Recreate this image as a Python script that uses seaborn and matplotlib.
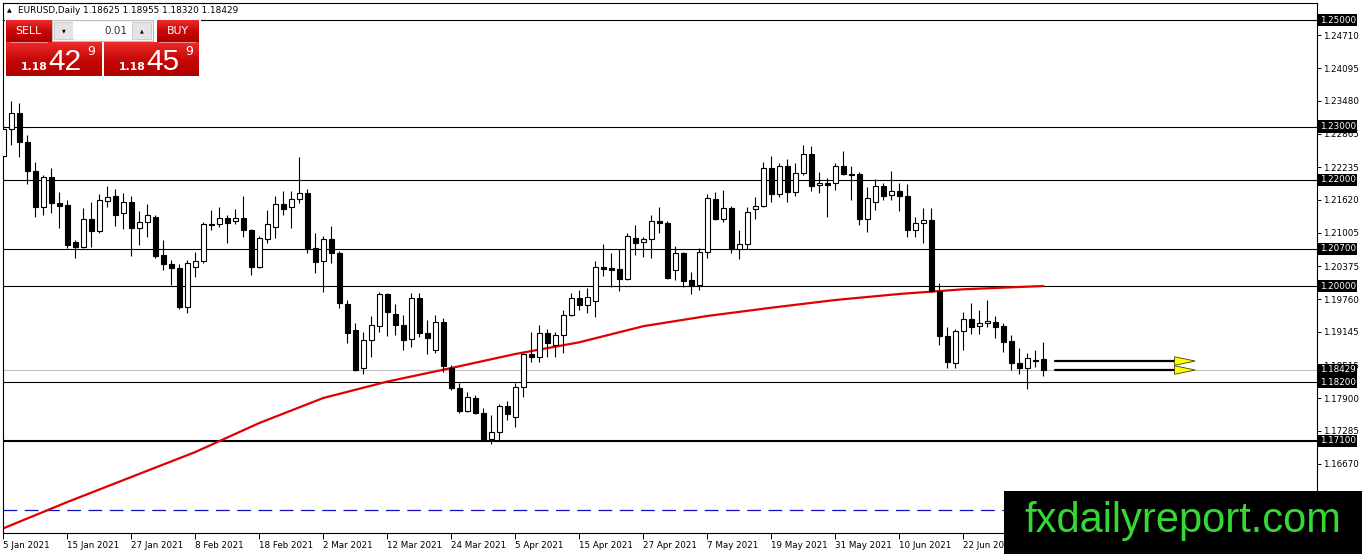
import numpy as np
import pandas as pd
import matplotlib
matplotlib.use("Agg")
import matplotlib.pyplot as plt
import matplotlib.transforms as mtransforms
from matplotlib.patches import Rectangle, Polygon
from matplotlib.colors import LinearSegmentedColormap
import seaborn as sns

# ---------------- data ----------------
dates = pd.bdate_range("2021-01-05", "2021-07-06")  # daily bars

opens = [1.22452, 1.22948, 1.23248, 1.22704, 1.22165, 1.21494, 1.22046, 1.21558, 1.21526, 1.20826,
         1.20743, 1.21263, 1.21043, 1.21607, 1.21695, 1.21370, 1.21577, 1.21089, 1.21201, 1.21295,
         1.20587, 1.20412, 1.20337, 1.19616, 1.20356, 1.20469, 1.21169, 1.21164, 1.21276, 1.21226,
         1.21276, 1.21057, 1.20356, 1.20882, 1.21119, 1.21545, 1.21483, 1.21633, 1.21746, 1.20713,
         1.20474, 1.20882, 1.20619, 1.19667, 1.19179, 1.18459, 1.18991, 1.19259, 1.19855, 1.19473,
         1.19272, 1.19004, 1.19774, 1.19117, 1.18803, 1.19323, 1.18459, 1.18095, 1.17663, 1.17896,
         1.17614, 1.17132, 1.17269, 1.17751, 1.17550, 1.18102, 1.18728, 1.18666, 1.19117, 1.18897,
         1.19079, 1.19455, 1.19774, 1.19648, 1.19718, 1.20356, 1.20337, 1.20324, 1.20131, 1.20901,
         1.20826, 1.20882, 1.21231, 1.21194, 1.20305, 1.20619, 1.20118, 1.20024, 1.20638, 1.21639,
         1.21258, 1.21464, 1.20700, 1.20788, 1.21445, 1.21502, 1.22215, 1.21727, 1.22259, 1.21776,
         1.22121, 1.22484, 1.21902, 1.21945, 1.21934, 1.22259, 1.22108, 1.22108, 1.21258, 1.21588,
         1.21883, 1.21708, 1.21789, 1.21695, 1.21057, 1.21182, 1.21244, 1.19917, 1.19066, 1.18553,
         1.19160, 1.19380, 1.19254, 1.19304, 1.19323, 1.19254, 1.18972, 1.18565, 1.18471, 1.18615,
         1.18625]
highs = [1.23028, 1.23479, 1.23447, 1.22841, 1.22339, 1.22089, 1.22215, 1.21765, 1.21620, 1.20869,
         1.21464, 1.21577, 1.21733, 1.21883, 1.21827, 1.21746, 1.21695, 1.21413, 1.21539, 1.21338,
         1.20869, 1.20493, 1.20412, 1.20493, 1.20643, 1.21213, 1.21432, 1.21483, 1.21338, 1.21445,
         1.21695, 1.21075, 1.20944, 1.21432, 1.21695, 1.21795, 1.21789, 1.22433, 1.21821, 1.20995,
         1.20944, 1.21132, 1.20668, 1.19742, 1.19316, 1.19147, 1.19442, 1.19898, 1.19879, 1.19661,
         1.19460, 1.19868, 1.19879, 1.19366, 1.19460, 1.19398, 1.18521, 1.18178, 1.18020, 1.17958,
         1.17719, 1.17582, 1.17789, 1.17851, 1.18178, 1.18752, 1.19135, 1.19272, 1.19192, 1.19147,
         1.19554, 1.19879, 1.19930, 1.19962, 1.20480, 1.20794, 1.20619, 1.20694, 1.21006, 1.21150,
         1.20931, 1.21338, 1.21494, 1.21231, 1.20756, 1.20649, 1.20273, 1.20713, 1.21733, 1.21776,
         1.21808, 1.21507, 1.21057, 1.21483, 1.21682, 1.22328, 1.22446, 1.22309, 1.22390, 1.22309,
         1.22653, 1.22634, 1.22140, 1.22039, 1.22320, 1.22540, 1.22259, 1.22151, 1.21870, 1.22009,
         1.21945, 1.22165, 1.21934, 1.21920, 1.21295, 1.21464, 1.21464, 1.20056, 1.19229, 1.19197,
         1.19522, 1.19691, 1.19554, 1.19742, 1.19442, 1.19304, 1.19085, 1.18835, 1.18741, 1.18803,
         1.18955]
lows = [1.22409, 1.22653, 1.22433, 1.21915, 1.21306, 1.21338, 1.21381, 1.21100, 1.20724, 1.20525,
        1.20719, 1.20743, 1.21006, 1.21494, 1.21132, 1.21070, 1.20574, 1.20775, 1.20931, 1.20536,
        1.20305, 1.20024, 1.19567, 1.19503, 1.20180, 1.20437, 1.21057, 1.21119, 1.20807, 1.21169,
        1.20931, 1.20211, 1.20337, 1.20807, 1.20901, 1.21338, 1.21089, 1.21558, 1.20619, 1.20255,
        1.19898, 1.20431, 1.19601, 1.18929, 1.18414, 1.18347, 1.18677, 1.19147, 1.19072, 1.19085,
        1.18803, 1.18854, 1.19041, 1.18722, 1.18741, 1.18395, 1.18052, 1.17614, 1.17633, 1.17601,
        1.17113, 1.17038, 1.17113, 1.17488, 1.17363, 1.17926, 1.18583, 1.18583, 1.18666, 1.18666,
        1.18752, 1.19442, 1.19554, 1.19492, 1.19417, 1.20193, 1.19980, 1.19917, 1.20118, 1.20587,
        1.20555, 1.20536, 1.21006, 1.20131, 1.20118, 1.19980, 1.19855, 1.19930, 1.20525, 1.21244,
        1.21213, 1.20630, 1.20506, 1.20700, 1.21258, 1.21483, 1.21588, 1.21671, 1.21588, 1.21701,
        1.22089, 1.21795, 1.21746, 1.21295, 1.21808, 1.22089, 1.21620, 1.21150, 1.21025, 1.21432,
        1.21620, 1.21620, 1.21419, 1.20920, 1.20931, 1.20818, 1.19898, 1.18897, 1.18459, 1.18459,
        1.18803, 1.19103, 1.19103, 1.19241, 1.19023, 1.18771, 1.18427, 1.18352, 1.18065, 1.18489,
        1.18320]
closes = [1.22948, 1.23248, 1.22704, 1.22165, 1.21494, 1.22046, 1.21558, 1.21513, 1.20775, 1.20743,
          1.21263, 1.21043, 1.21620, 1.21671, 1.21338, 1.21577, 1.21089, 1.21201, 1.21338, 1.20574,
          1.20412, 1.20337, 1.19616, 1.20431, 1.20469, 1.21169, 1.21156, 1.21276, 1.21182, 1.21276,
          1.21057, 1.20367, 1.20901, 1.21164, 1.21545, 1.21451, 1.21633, 1.21746, 1.20724, 1.20461,
          1.20882, 1.20619, 1.19680, 1.19128, 1.18427, 1.18991, 1.19272, 1.19855, 1.19511, 1.19272,
          1.18991, 1.19774, 1.19117, 1.19023, 1.19323, 1.18503, 1.18095, 1.17663, 1.17915, 1.17625,
          1.17132, 1.17269, 1.17751, 1.17601, 1.18102, 1.18722, 1.18666, 1.19117, 1.18940, 1.19079,
          1.19455, 1.19774, 1.19648, 1.19804, 1.20356, 1.20330, 1.20311, 1.20131, 1.20944, 1.20818,
          1.20882, 1.21231, 1.21182, 1.20161, 1.20619, 1.20104, 1.20005, 1.20638, 1.21652, 1.21258,
          1.21464, 1.20700, 1.20788, 1.21389, 1.21502, 1.22215, 1.21727, 1.22259, 1.21776, 1.22121,
          1.22484, 1.21889, 1.21945, 1.21902, 1.22259, 1.22103, 1.22084, 1.21258, 1.21652, 1.21883,
          1.21701, 1.21783, 1.21689, 1.21057, 1.21182, 1.21239, 1.19917, 1.19066, 1.18583, 1.19160,
          1.19380, 1.19229, 1.19304, 1.19348, 1.19241, 1.18959, 1.18565, 1.18471, 1.18647, 1.18591,
          1.18429]

# 200-period moving average, read at every 8th bar
ma_idx = [0, 8, 16, 24, 32, 40, 48, 56, 64, 72, 80, 88, 96, 104, 112, 120, 130]
ma_vals = [1.15454, 1.15948, 1.16418, 1.16887, 1.17432, 1.17902, 1.18210, 1.18465, 1.18728,
           1.18948, 1.19250, 1.19442, 1.19597, 1.19742, 1.19855, 1.19943, 1.20005]

levels = [1.25000, 1.23000, 1.22000, 1.20700, 1.20000, 1.18200, 1.17100]
current_price = 1.18429
blue_level = 1.15800
arrow_levels = [1.18596, 1.18427]
arrow_start, arrow_end = 131.5, 146.7

right_ticks = [1.24710, 1.24095, 1.23480, 1.22865, 1.22235, 1.21620, 1.21005, 1.20375,
               1.19760, 1.19145, 1.18515, 1.17900, 1.17285, 1.16670, 1.16055]
date_tick_idx = list(range(0, 121, 8))

# ---------------- figure ----------------
sns.set_style("white")
plt.rcParams["font.family"] = ["DejaVu Sans"]

W, H = 1362, 554
fig = plt.figure(figsize=(W / 100, H / 100), dpi=100)
fig.patch.set_facecolor("white")

L, R, T, B = 2.7, 1316.7, 2.7, 533.3
ax = fig.add_axes([L / W, (H - B) / H, (R - L) / W, (B - T) / H])
ax.set_facecolor("white")

x = np.arange(len(opens))
o = np.array(opens); h = np.array(highs); l = np.array(lows); c = np.array(closes)
bull = c >= o

# horizontal levels
for lv in levels:
    ax.axhline(lv, color="black", lw=1.5 if lv == 1.171 else 0.8, zorder=1)
ax.axhline(current_price, color="#c0c0c0", lw=0.8, zorder=1)
ax.axhline(blue_level, color="#1010c0", lw=0.9, linestyle=(0, (11, 6)), zorder=1)

# moving average
sns.lineplot(x=ma_idx, y=ma_vals, ax=ax, color="#e00000", linewidth=1.6, zorder=2)

# candles
ax.vlines(x, l, h, color="black", lw=0.8, zorder=3)
body_bottom = np.minimum(o, c)
body_h = np.maximum(np.abs(c - o), 0.00003)
ax.bar(x[bull], body_h[bull], bottom=body_bottom[bull], width=0.62,
       color="white", edgecolor="black", linewidth=0.8, zorder=4)
ax.bar(x[~bull], body_h[~bull], bottom=body_bottom[~bull], width=0.62,
       color="black", edgecolor="black", linewidth=0.8, zorder=4)

# arrows
for lv in arrow_levels:
    ax.plot([arrow_start, arrow_end], [lv, lv], color="black", lw=1.6, zorder=5)
    tri = Polygon([[arrow_end - 0.3, lv + 0.0008], [arrow_end + 2.3, lv], [arrow_end - 0.3, lv - 0.0008]],
                  closed=True, facecolor="#ffff00", edgecolor="#404000", lw=0.6, zorder=6)
    ax.add_patch(tri)

ax.set_xlim(-0.075, 164.18)
ax.set_ylim(1.15361, 1.25325)

# axes styling
for s in ax.spines.values():
    s.set_visible(True)
    s.set_color("black")
    s.set_linewidth(0.8)
ax.yaxis.tick_right()
ax.set_yticks(right_ticks)
ax.set_yticklabels([f"{v:.5f}" for v in right_ticks])
ax.tick_params(axis="y", which="both", right=True, left=False, length=3, width=0.7,
               pad=1.5, labelsize=6.3, colors="black")
ax.set_xticks(date_tick_idx)
ax.set_xticklabels([f"{dates[i].day} {dates[i].strftime('%b %Y')}" for i in date_tick_idx])
for lbl in ax.get_xticklabels():
    lbl.set_horizontalalignment("left")
ax.tick_params(axis="x", which="both", bottom=True, length=4, width=0.7, pad=1.2,
               labelsize=6.3, colors="black")
ax.set_xlabel("")
ax.set_ylabel("")
ax.grid(False)

# highlighted level labels on the price scale
blend = mtransforms.blended_transform_factory(ax.transAxes, ax.transData)
for lv in levels + [current_price]:
    ax.text(1.0022, lv, f"{lv:.5f}", transform=blend, ha="left", va="center",
            color="white", fontsize=6.3, clip_on=False, zorder=10,
            bbox=dict(boxstyle="square,pad=0.18", fc="black", ec="none"))

# ---------------- overlay (terminal decorations) ----------------
ov = fig.add_axes([0, 0, 1, 1], zorder=20)
ov.set_xlim(0, W)
ov.set_ylim(H, 0)
ov.axis("off")
ov.patch.set_alpha(0)

# header
ov.text(7, 10.5, "\u25B2", fontsize=4.5, ha="left", va="center", color="black")
ov.text(18, 10.5, f"EURUSD,Daily {opens[-1]:.5f} {highs[-1]:.5f} {lows[-1]:.5f} {closes[-1]:.5f}",
        fontsize=6.4, ha="left", va="center", color="black")

red_cmap = LinearSegmentedColormap.from_list("r", ["#ee2a2a", "#c80808", "#b00000"])
grad = np.linspace(0, 1, 64).reshape(-1, 1)

def red_box(x0, y0, x1, y1):
    ov.imshow(grad, cmap=red_cmap, extent=(x0, x1, y1, y0), aspect="auto", zorder=1)

ov.add_patch(Rectangle((4.5, 18), 196, 60, facecolor="white", edgecolor="none", zorder=0.5))
red_box(6, 20.5, 52, 42)
red_box(6, 42, 102, 76)
red_box(157, 20.5, 199, 42)
red_box(104, 42, 199, 76)
ov.plot([10, 47], [41.8, 41.8], color="#f0a0a0", lw=0.6, zorder=2)
ov.plot([159, 195], [41.8, 41.8], color="#f0a0a0", lw=0.6, zorder=2)
ov.text(28, 31, "SELL", color="white", fontsize=7.8, ha="center", va="center", zorder=3)
ov.text(178, 31, "BUY", color="white", fontsize=7.8, ha="center", va="center", zorder=3)

# lot spinner
ov.add_patch(Rectangle((52, 20), 101, 21, facecolor="#f4f4f4", edgecolor="#b0b0b0", lw=0.6, zorder=1))
ov.add_patch(Rectangle((54, 22), 19, 17, facecolor="#e4e4e4", edgecolor="#c0c0c0", lw=0.5, zorder=2))
ov.add_patch(Rectangle((73, 22), 59, 17, facecolor="white", edgecolor="none", zorder=2))
ov.add_patch(Rectangle((132, 22), 19, 17, facecolor="#e4e4e4", edgecolor="#c0c0c0", lw=0.5, zorder=2))
ov.text(63.5, 30.5, "\u25BC", fontsize=3.5, ha="center", va="center", color="black", zorder=3)
ov.text(141.5, 30.5, "\u25B2", fontsize=3.5, ha="center", va="center", color="black", zorder=3)
ov.text(127, 31, "0.01", fontsize=7.5, ha="right", va="center", color="#303030", zorder=3)

# prices
for x0, big in [(21, "42"), (119, "45")]:
    ov.text(x0, 70, "1.18", fontsize=7.8, fontweight="bold", color="white",
            ha="left", va="baseline", zorder=3)
    ov.text(x0 + 27.5, 70.5, big, fontsize=21.5, color="white", family="Liberation Sans",
            ha="left", va="baseline", zorder=3)
    ov.text(x0 + 66, 55, "9", fontsize=9, color="white", ha="left", va="baseline", zorder=3)

# watermark
ov.add_patch(Rectangle((1004, 491), W - 1004, H - 491, facecolor="black", edgecolor="none", zorder=5))
ov.text(1183, 532, "fxdailyreport.com", color="#35d935", fontsize=30, family="Liberation Sans",
        ha="center", va="baseline", zorder=6)

fig.savefig("out.png", dpi=100, facecolor="white")
